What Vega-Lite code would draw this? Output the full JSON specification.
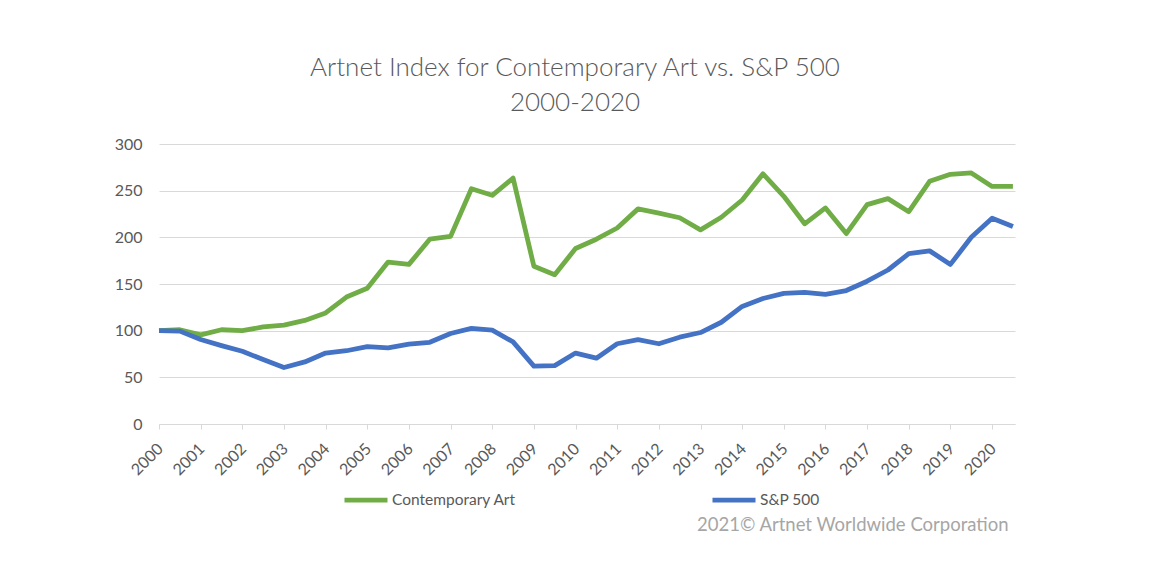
{
  "$schema": "https://vega.github.io/schema/vega-lite/v6.json",
  "autosize": {"type": "none"},
  "width": 856,
  "height": 280,
  "padding": {"left": 159, "top": 144, "right": 145, "bottom": 155},
  "background": "white",
  "title": {
    "text": ["Artnet Index for Contemporary Art vs. S&P 500", "2000-2020"],
    "font": "Lato",
    "fontSize": 26,
    "fontWeight": 300,
    "color": "#595959",
    "lineHeight": 35,
    "anchor": "middle",
    "offset": 20,
    "dx": -12
  },
  "data": {
    "values": [
      {"t": 2000, "series": "Contemporary Art", "value": 100},
      {"t": 2000.5, "series": "Contemporary Art", "value": 101},
      {"t": 2001, "series": "Contemporary Art", "value": 95.5},
      {"t": 2001.5, "series": "Contemporary Art", "value": 101},
      {"t": 2002, "series": "Contemporary Art", "value": 100},
      {"t": 2002.5, "series": "Contemporary Art", "value": 104},
      {"t": 2003, "series": "Contemporary Art", "value": 106},
      {"t": 2003.5, "series": "Contemporary Art", "value": 111},
      {"t": 2004, "series": "Contemporary Art", "value": 119},
      {"t": 2004.5, "series": "Contemporary Art", "value": 136},
      {"t": 2005, "series": "Contemporary Art", "value": 145.5},
      {"t": 2005.5, "series": "Contemporary Art", "value": 173.5},
      {"t": 2006, "series": "Contemporary Art", "value": 171},
      {"t": 2006.5, "series": "Contemporary Art", "value": 198},
      {"t": 2007, "series": "Contemporary Art", "value": 201},
      {"t": 2007.5, "series": "Contemporary Art", "value": 252},
      {"t": 2008, "series": "Contemporary Art", "value": 245},
      {"t": 2008.5, "series": "Contemporary Art", "value": 263.5},
      {"t": 2009, "series": "Contemporary Art", "value": 169},
      {"t": 2009.5, "series": "Contemporary Art", "value": 160},
      {"t": 2010, "series": "Contemporary Art", "value": 188},
      {"t": 2010.5, "series": "Contemporary Art", "value": 198},
      {"t": 2011, "series": "Contemporary Art", "value": 210},
      {"t": 2011.5, "series": "Contemporary Art", "value": 230.5},
      {"t": 2012, "series": "Contemporary Art", "value": 226},
      {"t": 2012.5, "series": "Contemporary Art", "value": 221},
      {"t": 2013, "series": "Contemporary Art", "value": 208},
      {"t": 2013.5, "series": "Contemporary Art", "value": 221.5},
      {"t": 2014, "series": "Contemporary Art", "value": 240},
      {"t": 2014.5, "series": "Contemporary Art", "value": 268},
      {"t": 2015, "series": "Contemporary Art", "value": 244},
      {"t": 2015.5, "series": "Contemporary Art", "value": 214.5},
      {"t": 2016, "series": "Contemporary Art", "value": 231.5},
      {"t": 2016.5, "series": "Contemporary Art", "value": 204},
      {"t": 2017, "series": "Contemporary Art", "value": 235},
      {"t": 2017.5, "series": "Contemporary Art", "value": 241.5},
      {"t": 2018, "series": "Contemporary Art", "value": 227.5},
      {"t": 2018.5, "series": "Contemporary Art", "value": 260},
      {"t": 2019, "series": "Contemporary Art", "value": 267.5},
      {"t": 2019.5, "series": "Contemporary Art", "value": 269},
      {"t": 2020, "series": "Contemporary Art", "value": 254.5},
      {"t": 2020.5, "series": "Contemporary Art", "value": 254.5},
      {"t": 2000, "series": "S&P 500", "value": 100},
      {"t": 2000.5, "series": "S&P 500", "value": 99.5},
      {"t": 2001, "series": "S&P 500", "value": 90.5},
      {"t": 2001.5, "series": "S&P 500", "value": 84},
      {"t": 2002, "series": "S&P 500", "value": 78},
      {"t": 2002.5, "series": "S&P 500", "value": 69},
      {"t": 2003, "series": "S&P 500", "value": 60.5},
      {"t": 2003.5, "series": "S&P 500", "value": 66.5},
      {"t": 2004, "series": "S&P 500", "value": 76},
      {"t": 2004.5, "series": "S&P 500", "value": 78.5},
      {"t": 2005, "series": "S&P 500", "value": 83},
      {"t": 2005.5, "series": "S&P 500", "value": 81.5},
      {"t": 2006, "series": "S&P 500", "value": 85.5},
      {"t": 2006.5, "series": "S&P 500", "value": 87.5},
      {"t": 2007, "series": "S&P 500", "value": 97},
      {"t": 2007.5, "series": "S&P 500", "value": 102.5},
      {"t": 2008, "series": "S&P 500", "value": 100.5},
      {"t": 2008.5, "series": "S&P 500", "value": 88},
      {"t": 2009, "series": "S&P 500", "value": 62},
      {"t": 2009.5, "series": "S&P 500", "value": 62.5},
      {"t": 2010, "series": "S&P 500", "value": 76},
      {"t": 2010.5, "series": "S&P 500", "value": 70.5},
      {"t": 2011, "series": "S&P 500", "value": 86},
      {"t": 2011.5, "series": "S&P 500", "value": 90.5},
      {"t": 2012, "series": "S&P 500", "value": 86},
      {"t": 2012.5, "series": "S&P 500", "value": 93},
      {"t": 2013, "series": "S&P 500", "value": 98},
      {"t": 2013.5, "series": "S&P 500", "value": 109},
      {"t": 2014, "series": "S&P 500", "value": 126},
      {"t": 2014.5, "series": "S&P 500", "value": 134.5},
      {"t": 2015, "series": "S&P 500", "value": 140},
      {"t": 2015.5, "series": "S&P 500", "value": 141},
      {"t": 2016, "series": "S&P 500", "value": 139},
      {"t": 2016.5, "series": "S&P 500", "value": 143},
      {"t": 2017, "series": "S&P 500", "value": 153},
      {"t": 2017.5, "series": "S&P 500", "value": 165},
      {"t": 2018, "series": "S&P 500", "value": 182.5},
      {"t": 2018.5, "series": "S&P 500", "value": 185.5},
      {"t": 2019, "series": "S&P 500", "value": 171},
      {"t": 2019.5, "series": "S&P 500", "value": 200},
      {"t": 2020, "series": "S&P 500", "value": 220.5},
      {"t": 2020.5, "series": "S&P 500", "value": 211.5}
    ]
  },
  "mark": {"type": "line", "strokeWidth": 4.8, "strokeJoin": "round", "strokeCap": "butt"},
  "encoding": {
    "x": {
      "field": "t",
      "type": "quantitative",
      "scale": {"domain": [2000, 2020.55], "nice": false, "zero": false},
      "axis": {
        "values": [2000, 2001, 2002, 2003, 2004, 2005, 2006, 2007, 2008, 2009, 2010, 2011, 2012, 2013, 2014, 2015, 2016, 2017, 2018, 2019, 2020],
        "format": "d",
        "grid": false,
        "labelAngle": -45,
        "labelAlign": "right",
        "labelBaseline": "middle",
        "labelPadding": 17,
        "labelOffset": 1,
        "labelFont": "Lato",
        "labelFontSize": 16,
        "labelColor": "#595959",
        "labelOverlap": false,
        "labelFlush": false,
        "tickSize": 5,
        "tickColor": "#d9d9d9",
        "domainColor": "#d9d9d9",
        "title": "2021© Artnet Worldwide Corporation",
        "titleX": 849,
        "titleY": 106,
        "titleAlign": "right",
        "titleBaseline": "alphabetic",
        "titleAnchor": "end",
        "titleColor": "#a6a6a6",
        "titleFont": "Lato",
        "titleFontSize": 18.5,
        "titleFontWeight": "normal"
      }
    },
    "y": {
      "field": "value",
      "type": "quantitative",
      "scale": {"domain": [0, 300], "nice": false},
      "axis": {
        "values": [0, 50, 100, 150, 200, 250, 300],
        "title": null,
        "domain": false,
        "ticks": false,
        "gridColor": "#d9d9d9",
        "gridWidth": 1,
        "labelPadding": 17,
        "labelFont": "Lato",
        "labelFontSize": 16,
        "labelColor": "#595959"
      }
    },
    "color": {
      "field": "series",
      "type": "nominal",
      "scale": {"domain": ["Contemporary Art", "S&P 500"], "range": ["#70ad47", "#4472c4"]},
      "legend": {
        "title": null,
        "orient": "none",
        "legendX": 183,
        "legendY": 332,
        "direction": "horizontal",
        "columns": 2,
        "columnPadding": 186,
        "symbolType": "stroke",
        "symbolSize": 1850,
        "symbolStrokeWidth": 4.8,
        "labelOffset": 2,
        "labelFont": "Lato",
        "labelFontSize": 15.5,
        "labelColor": "#595959"
      }
    }
  },
  "config": {
    "view": {"stroke": null}
  }
}
